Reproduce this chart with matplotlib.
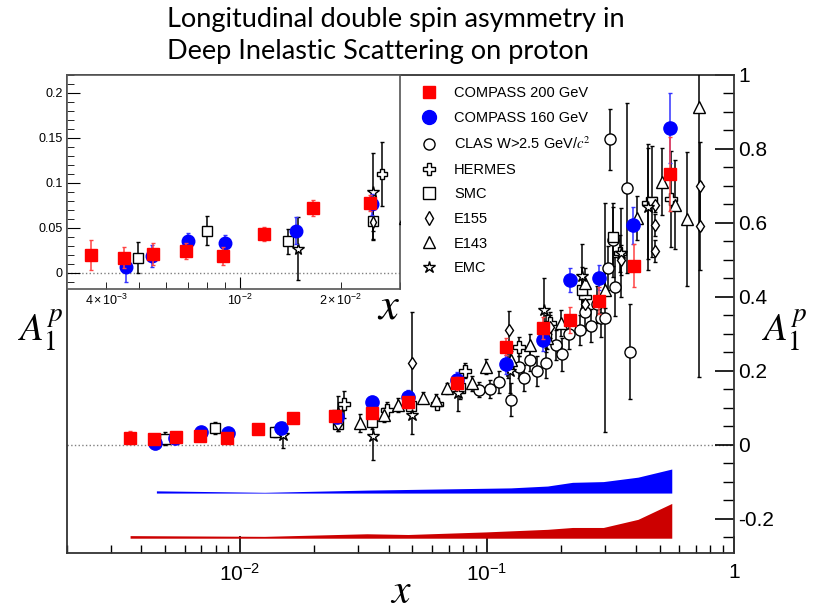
import matplotlib
matplotlib.use('Agg')
import matplotlib.pyplot as plt
from matplotlib.lines import Line2D
from matplotlib.ticker import FixedLocator, FuncFormatter, MultipleLocator

plt.rcParams['font.family'] = ['Liberation Sans', 'DejaVu Sans']
plt.rcParams['mathtext.fontset'] = 'stix'
plt.rcParams['axes.unicode_minus'] = False

# ---- data ----
c200_x = [0.0036, 0.0045, 0.0055, 0.0069, 0.0089, 0.0118, 0.0165, 0.0244, 0.0343, 0.048, 0.0755, 0.119, 0.169, 0.216, 0.283, 0.395, 0.551]
c200_a = [0.020, 0.017, 0.021, 0.024, 0.019, 0.043, 0.072, 0.078, 0.087, 0.115, 0.167, 0.266, 0.317, 0.338, 0.390, 0.485, 0.732]
c200_e = [0.017, 0.012, 0.012, 0.009, 0.010, 0.008, 0.009, 0.009, 0.012, 0.015, 0.018, 0.022, 0.030, 0.036, 0.037, 0.058, 0.100]

c160_x = [0.00456, 0.00545, 0.0070, 0.0090, 0.0147, 0.0248, 0.0343, 0.048, 0.0755, 0.119, 0.169, 0.216, 0.283, 0.392, 0.551]
c160_a = [0.006, 0.019, 0.035, 0.033, 0.047, 0.076, 0.117, 0.130, 0.176, 0.218, 0.284, 0.446, 0.452, 0.594, 0.856]
c160_e = [0.016, 0.012, 0.009, 0.009, 0.015, 0.012, 0.015, 0.018, 0.020, 0.025, 0.030, 0.032, 0.034, 0.050, 0.095]

clas_x = [0.093, 0.103, 0.112, 0.125, 0.135, 0.141, 0.150, 0.160, 0.174, 0.190, 0.202, 0.215, 0.238, 0.250, 0.264, 0.280, 0.290, 0.300, 0.309, 0.316, 0.325, 0.330, 0.368, 0.378]
clas_a = [0.149, 0.151, 0.170, 0.122, 0.210, 0.180, 0.230, 0.200, 0.222, 0.270, 0.245, 0.300, 0.311, 0.360, 0.322, 0.380, 0.342, 0.344, 0.479, 0.826, 0.554, 0.428, 0.695, 0.252]
clas_e = [0.020, 0.025, 0.030, 0.045, 0.030, 0.035, 0.030, 0.040, 0.040, 0.040, 0.045, 0.040, 0.040, 0.050, 0.045, 0.050, 0.050, 0.310, 0.060, 0.083, 0.100, 0.080, 0.230, 0.128]

herm_x = [0.0265, 0.0396, 0.063, 0.0813, 0.135, 0.18, 0.25, 0.346, 0.45, 0.558]
herm_a = [0.110, 0.095, 0.111, 0.201, 0.266, 0.33, 0.40, 0.518, 0.653, 0.665]
herm_e = [0.036, 0.020, 0.015, 0.020, 0.025, 0.030, 0.040, 0.050, 0.150, 0.130]

smc_x = [0.00497, 0.00795, 0.0139, 0.0249, 0.0343, 0.0495, 0.0776, 0.122, 0.173, 0.242, 0.325, 0.467]
smc_a = [0.017, 0.047, 0.035, 0.058, 0.063, 0.105, 0.155, 0.22, 0.30, 0.42, 0.563, 0.658]
smc_e = [0.017, 0.016, 0.014, 0.020, 0.020, 0.025, 0.030, 0.040, 0.050, 0.060, 0.080, 0.150]

e155_x = [0.0249, 0.0496, 0.075, 0.123, 0.18, 0.25, 0.35, 0.48, 0.48, 0.48, 0.728, 0.728]
e155_a = [0.057, 0.222, 0.17, 0.311, 0.32, 0.38, 0.50, 0.649, 0.595, 0.525, 0.70, 0.592]
e155_e = [0.020, 0.137, 0.020, 0.050, 0.030, 0.030, 0.040, 0.020, 0.030, 0.030, 0.120, 0.120]

e143_x = [0.0308, 0.0385, 0.0435, 0.0552, 0.062, 0.0692, 0.0873, 0.099, 0.125, 0.15, 0.175, 0.20, 0.25, 0.30, 0.404, 0.509, 0.575, 0.643, 0.721]
e143_a = [0.060, 0.081, 0.108, 0.128, 0.122, 0.153, 0.167, 0.212, 0.23, 0.27, 0.29, 0.33, 0.437, 0.42, 0.613, 0.712, 0.649, 0.611, 0.913]
e143_e = [0.025, 0.020, 0.020, 0.015, 0.015, 0.015, 0.020, 0.020, 0.025, 0.030, 0.030, 0.035, 0.040, 0.050, 0.060, 0.090, 0.120, 0.180, 0.730]

emc_x = [0.0149, 0.0249, 0.0345, 0.0496, 0.0766, 0.124, 0.17, 0.242, 0.35, 0.45]
emc_a = [0.027, 0.09, 0.024, 0.081, 0.141, 0.20, 0.365, 0.457, 0.52, 0.644]
emc_e = [0.035, 0.043, 0.065, 0.050, 0.050, 0.060, 0.085, 0.087, 0.120, 0.170]

# systematic bands
band160_x = [0.0046, 0.0126, 0.0327, 0.125, 0.176, 0.222, 0.296, 0.409, 0.56]
band160_top = [-0.124, -0.128, -0.122, -0.116, -0.111, -0.101, -0.099, -0.087, -0.065]
band160_base = -0.13
band200_x = [0.0036, 0.0126, 0.0327, 0.048, 0.099, 0.176, 0.222, 0.296, 0.409, 0.56]
band200_top = [-0.245, -0.247, -0.240, -0.242, -0.235, -0.228, -0.223, -0.223, -0.201, -0.158]
band200_base = -0.252

labels = ['COMPASS 200 GeV', 'COMPASS 160 GeV', r'CLAS W>2.5 GeV/$c^2$', 'HERMES', 'SMC', 'E155', 'E143', 'EMC']


def draw_points(a, k):
    op = dict(mfc='white', mec='black', mew=1.0, ecolor='black', elinewidth=1.1, capsize=1.5, zorder=3)
    a.errorbar(clas_x, clas_a, yerr=clas_e, fmt='o', ms=8*k, **op)
    a.errorbar(herm_x, herm_a, yerr=herm_e, fmt='P', ms=8*k, **op)
    a.errorbar(smc_x, smc_a, yerr=smc_e, fmt='s', ms=7*k, **op)
    a.errorbar(e155_x, e155_a, yerr=e155_e, fmt='d', ms=6*k, **op)
    a.errorbar(e143_x, e143_a, yerr=e143_e, fmt='^', ms=8*k, **op)
    a.errorbar(emc_x, emc_a, yerr=emc_e, fmt='*', ms=9*k, **op)
    a.errorbar(c160_x, c160_a, yerr=c160_e, fmt='o', ms=9.5*k, color='#0000ff', ecolor='#3333ff',
               elinewidth=1.1, capsize=1.5, zorder=4)
    a.errorbar(c200_x, c200_a, yerr=c200_e, fmt='s', ms=8.6*k, color='#ff0000', ecolor='#ff4444',
               elinewidth=1.1, capsize=1.5, zorder=5)


fig = plt.figure(figsize=(8.14, 6.14), dpi=100)

# ---- main plot ----
ax = fig.add_axes([67/814, 61/614, 667/814, 478/614])
draw_points(ax, 1.0)
ax.fill_between(band160_x, band160_base, band160_top, color='#0000ff', lw=0, zorder=2)
ax.fill_between(band200_x, band200_base, band200_top, color='#cc0000', lw=0, zorder=2)
ax.axhline(0, ls=':', color='gray', lw=1, zorder=1)
ax.set_xscale('log')
ax.set_xlim(0.002, 1.0)
ax.set_ylim(-0.292, 1.0)
ax.set_xticks([0.01, 0.1, 1.0])
ax.set_xticklabels([r'$\mathdefault{10^{-2}}$', r'$\mathdefault{10^{-1}}$', '1'])
ax.yaxis.tick_right()
ax.set_yticks([-0.2, 0, 0.2, 0.4, 0.6, 0.8, 1.0])
ax.set_yticklabels(['-0.2', '0', '0.2', '0.4', '0.6', '0.8', '1'])
ax.yaxis.set_minor_locator(MultipleLocator(0.05))
ax.tick_params(axis='x', which='both', direction='in', top=False, bottom=True, labelsize=15, pad=7)
ax.tick_params(axis='x', which='major', length=12, width=1.2)
ax.tick_params(axis='x', which='minor', length=6, width=1)
ax.tick_params(axis='y', which='both', direction='in', left=False, right=True, labelsize=15, pad=3)
ax.tick_params(axis='y', which='major', length=14, width=1.2)
ax.tick_params(axis='y', which='minor', length=8, width=1)
for s in ax.spines.values():
    s.set_color('#333333')
    s.set_linewidth(1.3)
ax.set_xlabel('$x$', fontsize=30, labelpad=-9)

# ---- inset ----
ins = fig.add_axes([67/814, 325/614, 333/814, 214/614], zorder=2)
ins.set_facecolor('white')
draw_points(ins, 0.95)
ins.axhline(0, ls=':', color='gray', lw=1, zorder=1)
ins.set_xscale('log')
ins.set_xlim(0.00305, 0.030)
ins.set_ylim(-0.018, 0.22)
ins.xaxis.set_major_locator(FixedLocator([0.01]))
ins.xaxis.set_major_formatter(FuncFormatter(lambda v, p: r'$\mathdefault{10^{-2}}$'))
ins.xaxis.set_minor_locator(FixedLocator([0.004, 0.005, 0.006, 0.007, 0.008, 0.009, 0.02, 0.03]))
minor_lab = {0.004: r'$\mathdefault{4\times10^{-3}}$', 0.02: r'$\mathdefault{2\times10^{-2}}$'}
ins.xaxis.set_minor_formatter(FuncFormatter(lambda v, p: minor_lab.get(round(v, 4), '')))
ins.set_yticks([0, 0.05, 0.1, 0.15, 0.2])
ins.set_yticklabels(['0', '0.05', '0.1', '0.15', '0.2'])
ins.yaxis.set_minor_locator(MultipleLocator(0.01))
ins.tick_params(axis='both', which='both', direction='in', top=False, right=False, labelsize=9, pad=3)
ins.tick_params(axis='both', which='major', length=9)
ins.tick_params(axis='both', which='minor', length=5)
for s in ins.spines.values():
    s.set_color('#555555')
    s.set_linewidth(1.2)
ins.set_xlabel('$x$', fontsize=32, loc='right', labelpad=-16)

# ---- legend ----
handles = [
    Line2D([], [], ls='', marker='s', ms=9, color='#ff0000'),
    Line2D([], [], ls='', marker='o', ms=10, color='#0000ff'),
    Line2D([], [], ls='', marker='o', ms=8, mfc='white', mec='black'),
    Line2D([], [], ls='', marker='P', ms=8, mfc='white', mec='black'),
    Line2D([], [], ls='', marker='s', ms=8, mfc='white', mec='black'),
    Line2D([], [], ls='', marker='d', ms=7, mfc='white', mec='black'),
    Line2D([], [], ls='', marker='^', ms=8, mfc='white', mec='black'),
    Line2D([], [], ls='', marker='*', ms=9, mfc='white', mec='black'),
]
fig.legend(handles, labels, loc='upper left', bbox_to_anchor=(409/814, 1 - 73/614), frameon=False,
           fontsize=10.5, handlelength=1.0, handletextpad=1.2, labelspacing=0.73, borderpad=0.4)

# ---- titles and axis labels ----
fig.text(167/814, 1 - 20/614, 'Longitudinal double spin asymmetry in', family='Lato', fontsize=19.5, va='center')
fig.text(167/814, 1 - 52/614, 'Deep Inelastic Scattering on proton', family='Lato', fontsize=19.5, va='center')
fig.text(40/814, 1 - 330/614, '$A_1^p$', fontsize=28, ha='center', va='center')
fig.text(784/814, 1 - 330/614, '$A_1^p$', fontsize=28, ha='center', va='center')

fig.savefig('out.png', dpi=100)
